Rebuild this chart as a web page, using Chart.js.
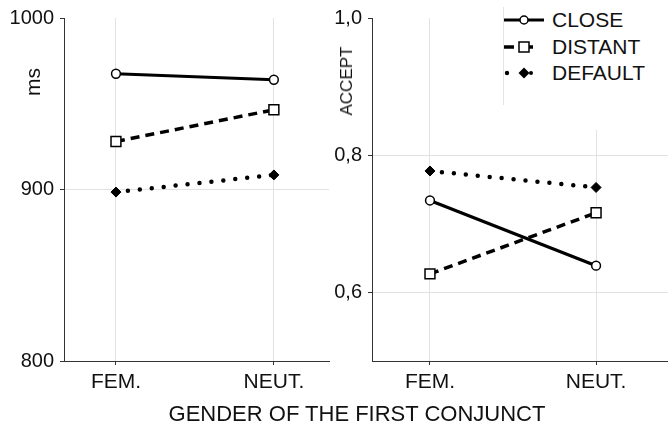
<!DOCTYPE html>
<html>
<head>
<meta charset="utf-8">
<script src="https://cdn.jsdelivr.net/npm/chart.js@4"></script>
<style>
  body { margin: 0; background: #fff; font-family: "Liberation Sans", Arial, sans-serif; color: #111; }
  #wrap { position: relative; width: 668px; height: 429px; overflow: hidden; }
  .box { position: absolute; top: 0; }
  .rot { position: absolute; transform: translate(-50%, -50%) rotate(-90deg); white-space: nowrap; }
  #xtitle { position: absolute; left: 357px; top: 414px; transform: translate(-50%, -50%); font-size: 22px; white-space: nowrap; }
  #legend { position: absolute; left: 503px; top: 0; width: 165px; height: 130px; background: #fff; }
  #legendLine { position: absolute; left: 503px; top: 7px; width: 1px; height: 98px; background: #e4e4e4; }
  .row { position: absolute; left: 0; height: 24px; }
  .row canvas { position: absolute; left: 0; top: 0; }
  .row span { position: absolute; left: 49px; top: 0px; font-size: 21px; line-height: 24px; }
</style>
</head>
<body>
<div id="wrap">
  <div class="box" style="left:0;width:332px;height:429px"><canvas id="rtChart" width="332" height="429"></canvas></div>
  <div class="box" style="left:332px;width:336px;height:429px"><canvas id="accChart" width="336" height="429"></canvas></div>
  <div class="rot" style="left:33px;top:82px;font-size:21px">ms</div>
  <div class="rot" style="left:347px;top:81px;font-size:17px">ACCEPT</div>
  <div id="xtitle">GENDER OF THE FIRST CONJUNCT</div>
  <div id="legend"></div>
  <div id="legendLine"></div>
</div>
<script>
// categories on the x axis
const genders = ['FEM.', 'NEUT.'];
const seriesNames = ['CLOSE', 'DISTANT', 'DEFAULT'];

// reaction times (ms)
const rtClose = [967.5, 964];
const rtDistant = [928, 946.5];
const rtDefault = [898.5, 908.5];
const rtTicks = [800, 900, 1000];

// acceptability
const accClose = [0.734, 0.639];
const accDistant = [0.627, 0.716];
const accDefault = [0.777, 0.753];
const accTicks = [0.6, 0.8, 1.0];

const styles = [
  { borderWidth: 3.2, borderDash: [], borderCapStyle: 'butt', pointStyle: 'circle', pointRadius: 4.4, pointBackgroundColor: '#fff', pointBorderWidth: 1.5 },
  { borderWidth: 3.5, borderDash: [9, 6], borderCapStyle: 'butt', pointStyle: 'rect', pointRadius: 7, pointBackgroundColor: '#fff', pointBorderWidth: 1.5 },
  { borderWidth: 4.5, borderDash: [0, 12], borderCapStyle: 'round', pointStyle: 'rectRot', pointRadius: 5, pointBackgroundColor: '#000', pointBorderWidth: 1 }
];

Chart.defaults.font.family = '"Liberation Sans", Arial, sans-serif';
Chart.defaults.color = '#111';

function makeSets(values) {
  return values.map((vals, i) => Object.assign({
    label: seriesNames[i],
    data: vals.map((v, k) => ({ x: k, y: v })),
    borderColor: '#000',
    pointBorderColor: '#000',
    tension: 0
  }, styles[i]));
}

function makeChart(id, values, yTicks, yMin, yMax, xMin, xMax, yWidth, fmt, padRight) {
  return new Chart(document.getElementById(id), {
    type: 'line',
    data: { datasets: makeSets(values) },
    options: {
      responsive: false,
      animation: false,
      layout: { autoPadding: false, padding: { top: 15, right: padRight, left: 0, bottom: 0 } },
      plugins: { legend: { display: false }, tooltip: { enabled: false } },
      scales: {
        x: {
          type: 'linear', min: xMin, max: xMax,
          afterBuildTicks: (axis) => { axis.ticks = genders.map((g, i) => ({ value: i })); },
          afterFit: (axis) => { axis.height = 68; },
          ticks: { callback: (v) => genders[v], font: { size: 21 }, padding: 5, maxRotation: 0 },
          grid: { color: '#e2e2e2', lineWidth: 1, tickLength: 4, tickColor: '#333' },
          border: { color: '#333', width: 1 }
        },
        y: {
          min: yMin, max: yMax,
          afterBuildTicks: (axis) => { axis.ticks = yTicks.map(v => ({ value: v })); },
          afterFit: (axis) => { axis.width = yWidth; },
          ticks: { callback: fmt, font: { size: 20 }, padding: 6 },
          grid: {
            color: (ctx) => (ctx.tick && ctx.tick.value === yMax) ? 'rgba(0,0,0,0)' : '#e2e2e2',
            lineWidth: 1, tickLength: 4, tickColor: '#333'
          },
          border: { color: '#333', width: 1 }
        }
      }
    }
  });
}

makeChart('rtChart', [rtClose, rtDistant, rtDefault], rtTicks, 800, 1000, -0.329, 1.349, 64, (v) => String(v), 3);
makeChart('accChart', [accClose, accDistant, accDefault], accTicks, 0.5, 1.0, -0.349, 1.433, 40,
  (v) => v.toFixed(1).replace('.', ','), 0);

// legend with line + marker icons
const legend = document.getElementById('legend');
const rowsY = [8, 35, 61];
seriesNames.forEach((name, i) => {
  const row = document.createElement('div');
  row.className = 'row';
  row.style.top = rowsY[i] + 'px';
  const c = document.createElement('canvas');
  c.width = 44; c.height = 24;
  const g = c.getContext('2d');
  g.strokeStyle = '#000';
  g.fillStyle = '#000';
  const cy = 12, cx = 21;
  if (i === 0) {
    g.lineWidth = 3.2;
    g.beginPath(); g.moveTo(1, cy); g.lineTo(41, cy); g.stroke();
    g.beginPath(); g.arc(cx, cy, 4, 0, Math.PI * 2);
    g.fillStyle = '#fff'; g.fill(); g.lineWidth = 1.5; g.stroke();
  } else if (i === 1) {
    g.lineWidth = 3.5;
    g.beginPath(); g.moveTo(1, cy); g.lineTo(11, cy); g.stroke();
    g.beginPath(); g.moveTo(26, cy); g.lineTo(30, cy); g.stroke();
    g.fillStyle = '#fff'; g.lineWidth = 1.5;
    g.fillRect(16, cy - 5, 10, 10); g.strokeRect(16, cy - 5, 10, 10);
  } else {
    g.beginPath(); g.arc(4, cy, 2.2, 0, Math.PI * 2); g.fill();
    g.beginPath(); g.arc(28, cy, 2, 0, Math.PI * 2); g.fill();
    g.beginPath(); g.moveTo(cx, cy - 5.5); g.lineTo(cx + 5.5, cy); g.lineTo(cx, cy + 5.5); g.lineTo(cx - 5.5, cy); g.closePath(); g.fill();
  }
  row.appendChild(c);
  const t = document.createElement('span');
  t.textContent = name;
  row.appendChild(t);
  legend.appendChild(row);
});
</script>
</body>
</html>
